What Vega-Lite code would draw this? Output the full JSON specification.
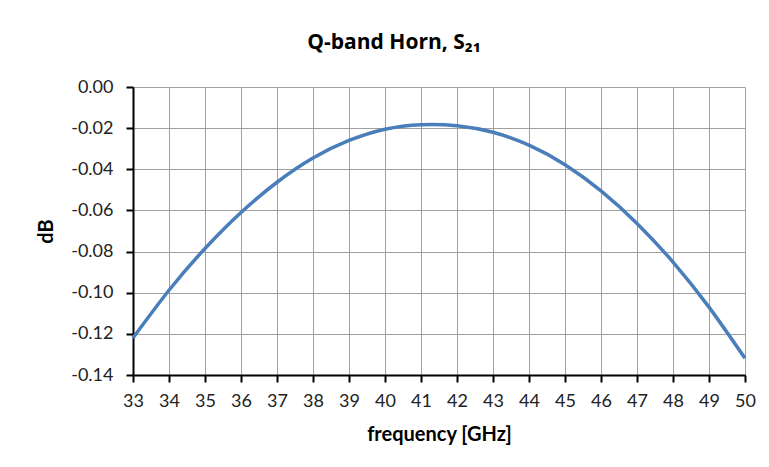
{
  "$schema": "https://vega.github.io/schema/vega-lite/v6.json",
  "width": 612,
  "height": 288,
  "autosize": {"type": "none"},
  "padding": {"left": 133, "top": 87, "right": 24, "bottom": 92},
  "background": "white",
  "title": {
    "text": "Q-band Horn, S₂₁",
    "font": "Open Sans",
    "fontSize": 21,
    "fontWeight": "bold",
    "color": "#000000",
    "anchor": "middle",
    "dx": -45,
    "offset": 25
  },
  "config": {
    "view": {"stroke": null},
    "axis": {
      "labelFont": "Lato",
      "titleFont": "Lato",
      "labelFontSize": 18,
      "titleFontSize": 20,
      "labelColor": "#222222",
      "titleColor": "#000000",
      "titleFontWeight": "bold",
      "domainColor": "#000000",
      "domainWidth": 2,
      "tickColor": "#000000",
      "tickWidth": 2,
      "tickSize": 7,
      "gridColor": "#a0a0a0",
      "gridWidth": 1
    }
  },
  "data": {
    "values": [
      {"f": 33, "db": -0.122},
      {"f": 34, "db": -0.0988},
      {"f": 35, "db": -0.0785},
      {"f": 36, "db": -0.061},
      {"f": 37, "db": -0.0463},
      {"f": 38, "db": -0.0345},
      {"f": 39, "db": -0.026},
      {"f": 40, "db": -0.0205},
      {"f": 41, "db": -0.0183},
      {"f": 42, "db": -0.0188},
      {"f": 43, "db": -0.022},
      {"f": 44, "db": -0.0283},
      {"f": 45, "db": -0.0378},
      {"f": 46, "db": -0.0505},
      {"f": 47, "db": -0.0663},
      {"f": 48, "db": -0.0851},
      {"f": 49, "db": -0.107},
      {"f": 50, "db": -0.1319}
    ]
  },
  "mark": {"type": "line", "color": "#4a7ebb", "strokeWidth": 3.5, "interpolate": "natural"},
  "encoding": {
    "x": {
      "field": "f",
      "type": "quantitative",
      "scale": {"domain": [33, 50], "nice": false, "zero": false},
      "axis": {
        "title": "frequency [GHz]",
        "values": [33,34,35,36,37,38,39,40,41,42,43,44,45,46,47,48,49,50],
        "format": "d",
        "labelPadding": 10,
        "titlePadding": 14,
        "labelFlush": false,
        "labelOverlap": false
      }
    },
    "y": {
      "field": "db",
      "type": "quantitative",
      "scale": {"domain": [-0.14, 0], "nice": false, "zero": false},
      "axis": {
        "title": "dB",
        "values": [-0.14, -0.12, -0.1, -0.08, -0.06, -0.04, -0.02, 0],
        "labelExpr": "replace(format(datum.value, '.2f'), '−', '-')",
        "labelPadding": 13,
        "titlePadding": 14,
        "labelFlush": false,
        "labelOverlap": false
      }
    }
  }
}
